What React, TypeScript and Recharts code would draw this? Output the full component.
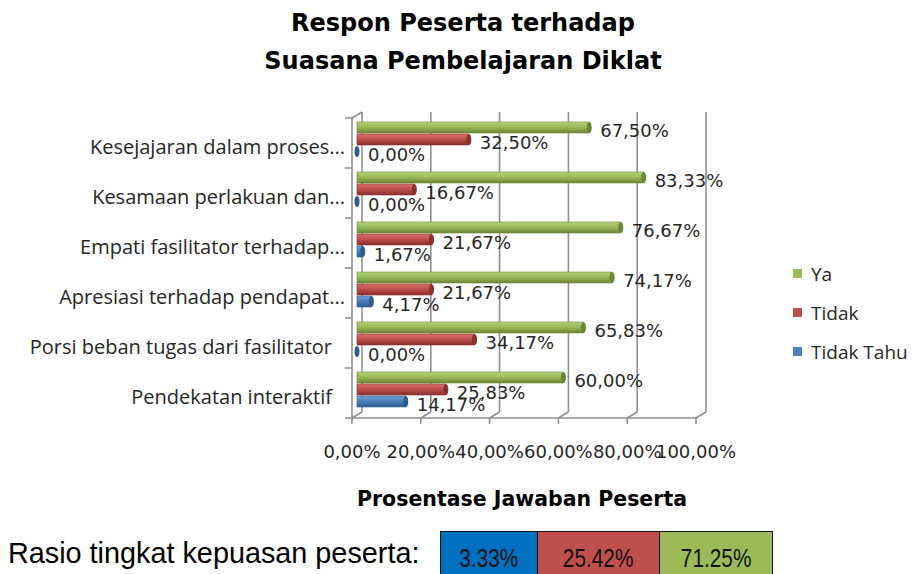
import { BarChart, Bar, XAxis, YAxis, CartesianGrid, Legend, LabelList } from "recharts";

const categories = [
  "Kesejajaran dalam proses...",
  "Kesamaan perlakuan dan...",
  "Empati fasilitator terhadap...",
  "Apresiasi terhadap pendapat...",
  "Porsi beban tugas dari fasilitator",
  "Pendekatan interaktif",
];
const ya = [67.5, 83.33, 76.67, 74.17, 65.83, 60.0];
const tidak = [32.5, 16.67, 21.67, 21.67, 34.17, 25.83];
const tidakTahu = [0, 0, 1.67, 4.17, 0, 14.17];
const xTicks = [0, 20, 40, 60, 80, 100];
const seriesOrder = ["ya", "tidak", "tidakTahu"];

const ratioNames = ["Tidak Tahu", "Tidak", "Ya"];
const ratioValues = [3.33, 25.42, 71.25];

const data = categories.map((name, i) => ({
  name,
  ya: ya[i],
  tidak: tidak[i],
  tidakTahu: tidakTahu[i],
}));

const W = 913;
const H = 574;
const TEXT = "#262626";
const GRID = "#8f8f8f";

// 3D-ish offsets of the walls relative to the scale position
const BACK_X = 5;
const FRONT_X = -5;

const colors: Record<string, { light: string; base: string; dark: string }> = {
  ya: { light: "#b3d07a", base: "#9bbb59", dark: "#6a8536" },
  tidak: { light: "#d8716d", base: "#c0504d", dark: "#8a302d" },
  tidakTahu: { light: "#76a0d6", base: "#4f81bd", dark: "#2f5a8c" },
};
const ratioColors = ["#0070c0", "#c0504d", "#9bbb59"];

const fmt = (v: number) => v.toFixed(2).replace(".", ",") + "%";

const cylinder = (key: string) => (props: any) => {
  const { x, y, width, height } = props;
  const w = Math.max(width || 0, 0);
  return (
    <g>
      <rect
        x={x}
        y={y}
        width={w}
        height={height}
        fill={`url(#grad-${key})`}
        stroke={colors[key].dark}
        strokeWidth={0.6}
      />
      <ellipse
        cx={x + w}
        cy={y + height / 2}
        rx={2.5}
        ry={height / 2}
        fill={colors[key].dark}
      />
    </g>
  );
};

const dataLabel = (props: any) => {
  const { x, y, width, height, value } = props;
  return (
    <text
      x={x + width + 11}
      y={y + height / 2 + 3}
      dy="0.35em"
      fill={TEXT}
      fontSize={18}
      fontFamily="DejaVu Sans"
    >
      {fmt(value)}
    </text>
  );
};

const CategoryTick = (props: any) => {
  const { x, y, payload } = props;
  const label: string = payload.value;
  const endX = label.endsWith("...") ? x - 4 : x - 17;
  return (
    <text
      x={endX}
      y={y + 8}
      dy="0.35em"
      textAnchor="end"
      fill={TEXT}
      fontSize={20}
      fontFamily="Open Sans"
    >
      {label}
    </text>
  );
};

const ValueTick = (props: any) => {
  const { x, y, payload } = props;
  return (
    <text
      x={x + FRONT_X}
      y={y + 30}
      dy="0.35em"
      textAnchor="middle"
      fill={TEXT}
      fontSize={18}
      fontFamily="DejaVu Sans"
    >
      {fmt(payload.value)}
    </text>
  );
};

const step = 344 / (xTicks.length - 1);

const gridLine = (props: any) => {
  const { x1, y1, y2, index } = props;
  const bx = x1 + BACK_X;
  const fx = x1 + FRONT_X;
  const bandH = (y2 - y1) / categories.length;
  return (
    <g key={`g-${index}`}>
      <line x1={bx} y1={y1 - 2} x2={bx} y2={y2 - 2} stroke={GRID} strokeWidth={1.6} />
      <line x1={bx} y1={y2 - 2} x2={fx} y2={y2 + 4} stroke={GRID} strokeWidth={1.6} />
      <line x1={fx} y1={y2 + 4} x2={fx} y2={y2 + 10} stroke={GRID} strokeWidth={1.6} />
      {index < xTicks.length - 1 && (
        <line x1={fx} y1={y2 + 4} x2={fx + step} y2={y2 + 4} stroke={GRID} strokeWidth={1.6} />
      )}
      {index === 0 && (
        <g>
          <line x1={fx} y1={y1 + 4} x2={fx} y2={y2 + 4} stroke={GRID} strokeWidth={1.6} />
          <line x1={fx} y1={y1 + 4} x2={bx} y2={y1 - 2} stroke={GRID} strokeWidth={1.6} />
          {categories.map((_, k) => (
            <line
              key={k}
              x1={fx - 7}
              y1={y1 + 4 + k * bandH}
              x2={fx}
              y2={y1 + 4 + k * bandH}
              stroke={GRID}
              strokeWidth={1.6}
            />
          ))}
          <line x1={fx - 7} y1={y2 + 4} x2={fx} y2={y2 + 4} stroke={GRID} strokeWidth={1.6} />
        </g>
      )}
    </g>
  );
};

const renderLegend = (props: any) => {
  const payload = [...(props.payload || [])].sort(
    (a: any, b: any) => seriesOrder.indexOf(a.dataKey) - seriesOrder.indexOf(b.dataKey)
  );
  return (
    <div style={{ fontFamily: "Open Sans", fontSize: 19, color: TEXT }}>
      {payload.map((p: any) => (
        <div key={p.value} style={{ display: "flex", alignItems: "center", height: 39 }}>
          <span
            style={{
              display: "inline-block",
              width: 9,
              height: 9,
              background: colors[p.dataKey].base,
              marginRight: 9,
            }}
          />
          {p.value}
        </div>
      ))}
    </div>
  );
};

export default function App() {
  return (
    <div
      style={{
        position: "absolute",
        left: 0,
        top: 0,
        width: W,
        height: H,
        background: "#fff",
        overflow: "hidden",
      }}
    >
      <div
        style={{
          position: "absolute",
          left: 0,
          width: 926,
          top: 4,
          textAlign: "center",
          fontFamily: "DejaVu Sans",
          fontWeight: "bold",
          fontSize: 24,
          lineHeight: "38px",
          color: "#000",
        }}
      >
        Respon Peserta terhadap
        <br />
        Suasana Pembelajaran Diklat
      </div>

      <BarChart
        width={W}
        height={H}
        data={data}
        layout="vertical"
        margin={{ top: 114, right: 212, bottom: 130, left: 17 }}
        barCategoryGap="16%"
        barGap={1}
      >
        <defs>
          {Object.keys(colors).map((k) => (
            <linearGradient key={k} id={`grad-${k}`} x1="0" y1="0" x2="0" y2="1">
              <stop offset="0%" stopColor={colors[k].light} />
              <stop offset="45%" stopColor={colors[k].base} />
              <stop offset="100%" stopColor={colors[k].dark} />
            </linearGradient>
          ))}
        </defs>
        <CartesianGrid horizontal={false} vertical={gridLine} />
        <XAxis
          type="number"
          domain={[0, 100]}
          ticks={xTicks}
          axisLine={false}
          tickLine={false}
          tick={<ValueTick />}
          height={30}
          interval={0}
        />
        <YAxis
          type="category"
          dataKey="name"
          width={340}
          axisLine={false}
          tickLine={false}
          tick={<CategoryTick />}
          interval={0}
        />
        <Legend
          layout="vertical"
          align="center"
          verticalAlign="middle"
          content={renderLegend}
          wrapperStyle={{ position: "absolute", left: 793, top: 254, width: 120 }}
        />
        <Bar dataKey="ya" name="Ya" fill={colors.ya.base} shape={cylinder("ya")} isAnimationActive={false}>
          <LabelList dataKey="ya" content={dataLabel} />
        </Bar>
        <Bar dataKey="tidak" name="Tidak" fill={colors.tidak.base} shape={cylinder("tidak")} isAnimationActive={false}>
          <LabelList dataKey="tidak" content={dataLabel} />
        </Bar>
        <Bar
          dataKey="tidakTahu"
          name="Tidak Tahu"
          fill={colors.tidakTahu.base}
          shape={cylinder("tidakTahu")}
          isAnimationActive={false}
        >
          <LabelList dataKey="tidakTahu" content={dataLabel} />
        </Bar>
      </BarChart>

      <div
        style={{
          position: "absolute",
          left: 322,
          width: 400,
          top: 484,
          textAlign: "center",
          fontFamily: "DejaVu Sans",
          fontWeight: "bold",
          fontSize: 20.5,
          lineHeight: "30px",
          color: "#000",
        }}
      >
        Prosentase Jawaban Peserta
      </div>

      <div
        style={{
          position: "absolute",
          left: 8,
          top: 535,
          fontFamily: "Liberation Sans",
          fontSize: 28.8,
          lineHeight: "36px",
          color: "#000",
        }}
      >
        Rasio tingkat kepuasan peserta:
      </div>

      <div
        style={{
          position: "absolute",
          left: 440,
          top: 531,
          display: "flex",
          border: "1.5px solid #111",
          borderBottom: "none",
          height: 50,
        }}
      >
        {ratioValues.map((v, i) => (
          <div
            key={ratioNames[i]}
            style={{
              width: [96, 121, 112][i],
              background: ratioColors[i],
              borderLeft: i > 0 ? "1.5px solid #111" : "none",
              fontFamily: "Liberation Sans",
              fontSize: 26,
              textAlign: "center",
              lineHeight: "52px",
              color: "#111",
            }}
          >
            <span style={{ display: "inline-block", transform: "scaleX(0.8)" }}>
              {v.toFixed(2)}%
            </span>
          </div>
        ))}
      </div>
    </div>
  );
}
